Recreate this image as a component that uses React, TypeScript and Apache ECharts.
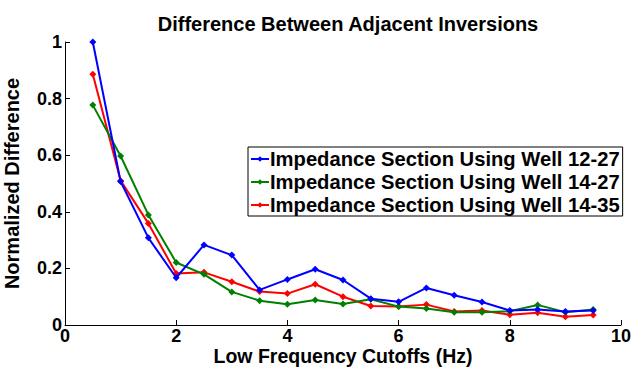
import React, { useEffect, useRef } from "react";
import * as echarts from "echarts";

const cutoffs = [0.5, 1, 1.5, 2, 2.5, 3, 3.5, 4, 4.5, 5, 5.5, 6, 6.5, 7, 7.5, 8, 8.5, 9, 9.5];

const well1227 = [1.0, 0.507, 0.308, 0.167, 0.283, 0.247, 0.124, 0.161, 0.197, 0.159, 0.093, 0.082, 0.131, 0.105, 0.081, 0.051, 0.055, 0.048, 0.051];
const well1427 = [0.777, 0.597, 0.389, 0.221, 0.179, 0.117, 0.086, 0.073, 0.088, 0.074, 0.091, 0.065, 0.058, 0.045, 0.045, 0.049, 0.071, 0.045, 0.055];
const well1435 = [0.886, 0.51, 0.359, 0.182, 0.186, 0.153, 0.118, 0.111, 0.144, 0.1, 0.067, 0.065, 0.072, 0.048, 0.051, 0.036, 0.043, 0.029, 0.035];

const seriesNames = [
  "Impedance Section Using Well 12-27",
  "Impedance Section Using Well 14-27",
  "Impedance Section Using Well 14-35",
];
const seriesColors = ["#0000ff", "#008000", "#ff0000"];

const xAxisTitle = "Low Frequency Cutoffs (Hz)";

const font = "Liberation Sans";

export default function App() {
  const ref = useRef<HTMLDivElement>(null);

  useEffect(() => {
    if (!ref.current) return;
    const chart = echarts.init(ref.current, undefined, { renderer: "svg" });
    const data = [well1227, well1427, well1435];

    chart.setOption({
      animation: false,
      backgroundColor: "#ffffff",
      title: {
        text: "Difference Between Adjacent Inversions",
        left: 343,
        top: 9,
        textAlign: "center",
        textStyle: { fontFamily: font, fontWeight: "bold", fontSize: 20, lineHeight: 20, color: "#000" },
      },
      grid: { left: 65, right: 12, top: 42, bottom: 43, containLabel: false, outerBoundsMode: "none" },
      // x-axis title placed directly under the tick labels
      graphic: [
        {
          type: "text",
          x: 343,
          y: 346,
          style: {
            text: xAxisTitle,
            fontFamily: font,
            fontWeight: "bold",
            fontSize: 19.5,
            fill: "#000",
            align: "center",
            verticalAlign: "top",
          },
        },
      ],
      legend: {
        orient: "vertical",
        left: 248,
        top: 147,
        itemWidth: 18,
        itemHeight: 7,
        itemGap: 3,
        padding: [2, 3, 1, 2],
        borderColor: "#000",
        borderWidth: 1,
        backgroundColor: "#fff",
        textStyle: {
          fontFamily: font,
          fontWeight: "bold",
          fontSize: 20.2,
          lineHeight: 20,
          color: "#000",
          padding: [0, 0, 0, -4],
        },
        data: seriesNames,
      },
      xAxis: {
        type: "value",
        min: 0,
        max: 10,
        interval: 2,
        axisLine: { lineStyle: { color: "#000", width: 1 } },
        axisTick: { inside: true, length: 5, lineStyle: { color: "#000" } },
        axisLabel: { fontFamily: font, fontWeight: "bold", fontSize: 18, color: "#000", margin: 2 },
        splitLine: { show: false },
      },
      yAxis: {
        type: "value",
        min: 0,
        max: 1,
        interval: 0.2,
        name: "Normalized Difference",
        nameLocation: "middle",
        nameGap: 43,
        nameTextStyle: { fontFamily: font, fontWeight: "bold", fontSize: 20, lineHeight: 20, color: "#000" },
        axisLine: { show: true, lineStyle: { color: "#000", width: 1 } },
        axisTick: { show: true, inside: true, length: 5, lineStyle: { color: "#000" } },
        axisLabel: {
          fontFamily: font,
          fontWeight: "bold",
          fontSize: 18,
          color: "#000",
          margin: 3,
          formatter: (v: number) => String(Number(v.toFixed(1))),
        },
        splitLine: { show: false },
      },
      series: data.map((vals, i) => ({
        name: seriesNames[i],
        type: "line",
        data: cutoffs.map((x, j) => [x, vals[j]]),
        symbol: "diamond",
        symbolSize: 7,
        lineStyle: { color: seriesColors[i], width: 2 },
        itemStyle: { color: seriesColors[i] },
        z: 3 - i,
      })),
    });

    return () => chart.dispose();
  }, []);

  return <div ref={ref} style={{ width: 633, height: 368, position: "absolute", left: 0, top: 0 }} />;
}
